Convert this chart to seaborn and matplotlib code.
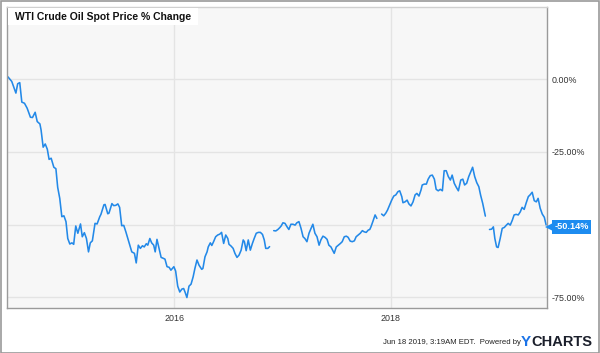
import numpy as np
import pandas as pd
import matplotlib
matplotlib.use("Agg")
import matplotlib.pyplot as plt
from matplotlib.patches import Rectangle
from matplotlib.ticker import FuncFormatter
import seaborn as sns

# ---------------- data ----------------
dates = [
    "2014-06-19", "2014-07-02", "2014-07-16", "2014-07-22", "2014-07-29", "2014-08-05", "2014-08-14",
    "2014-08-23", "2014-09-03", "2014-09-10", "2014-09-19", "2014-09-26", "2014-10-05", "2014-10-09",
    "2014-10-16", "2014-10-23", "2014-10-30", "2014-11-05", "2014-11-12", "2014-11-21", "2014-11-28",
    "2014-12-04", "2014-12-11", "2014-12-18", "2014-12-25", "2015-01-01", "2015-01-07", "2015-01-14",
    "2015-01-21", "2015-01-27", "2015-02-03", "2015-02-10", "2015-02-19", "2015-02-25", "2015-03-04",
    "2015-03-11", "2015-03-18", "2015-03-24", "2015-03-31", "2015-04-09", "2015-04-16", "2015-04-25",
    "2015-04-29", "2015-05-09", "2015-05-13", "2015-05-22", "2015-05-26", "2015-06-05", "2015-06-11",
    "2015-06-18", "2015-06-25", "2015-07-01", "2015-07-08", "2015-07-15", "2015-07-22", "2015-07-30",
    "2015-08-11", "2015-08-20", "2015-08-26", "2015-09-02", "2015-09-09", "2015-09-16", "2015-09-22",
    "2015-09-29", "2015-10-04", "2015-10-11", "2015-10-17", "2015-10-24", "2015-10-29", "2015-11-04",
    "2015-11-11", "2015-11-18", "2015-11-25", "2015-12-01", "2015-12-08", "2015-12-15", "2015-12-21",
    "2015-12-31", "2016-01-06", "2016-01-13", "2016-01-20", "2016-01-27", "2016-02-02", "2016-02-07",
    "2016-02-13", "2016-02-20", "2016-02-27", "2016-03-05", "2016-03-11", "2016-03-18", "2016-03-25",
    "2016-04-03", "2016-04-07", "2016-04-14", "2016-04-21", "2016-04-25", "2016-05-02", "2016-05-07",
    "2016-05-13", "2016-05-20", "2016-05-27", "2016-06-03", "2016-06-09", "2016-06-16", "2016-06-23",
    "2016-06-30", "2016-07-04", "2016-07-11", "2016-07-18", "2016-07-24", "2016-07-31", "2016-08-07",
    "2016-08-14", "2016-08-21", "2016-08-25", "2016-08-31", "2016-09-07", "2016-09-14", "2016-09-21",
    "2016-09-27", "2016-10-04", "2016-10-11", "2016-10-18", "2016-10-25", "2016-10-31", "2016-11-05",
    "2016-11-12", "2016-11-18", "2016-11-25", "2016-12-02", "2016-12-09", "2016-12-16", "2016-12-22",
    "2016-12-27", "2017-01-02", "2017-01-09", "2017-01-16", "2017-01-22", "2017-01-29", "2017-02-05",
    "2017-02-12", "2017-02-18", "2017-02-25", "2017-03-04", "2017-03-11", "2017-03-17", "2017-03-24",
    "2017-03-31", "2017-04-07", "2017-04-13", "2017-04-20", "2017-04-27", "2017-05-04", "2017-05-10",
    "2017-05-17", "2017-05-24", "2017-05-31", "2017-06-06", "2017-06-13", "2017-06-20", "2017-06-24",
    "2017-07-01", "2017-07-08", "2017-07-15", "2017-07-21", "2017-07-28", "2017-08-04", "2017-08-10",
    "2017-08-17", "2017-08-24", "2017-08-31", "2017-09-06", "2017-09-13", "2017-09-20", "2017-09-27",
    "2017-10-03", "2017-10-10", "2017-10-17", "2017-10-22", "2017-10-26", "2017-11-02", "2017-11-09",
    "2017-11-15", "2017-11-22", "2017-12-01", "2017-12-08", "2017-12-15", "2017-12-21", "2017-12-28",
    "2018-01-04", "2018-01-11", "2018-01-18", "2018-01-25", "2018-01-31", "2018-02-07", "2018-02-11",
    "2018-02-18", "2018-02-25", "2018-03-03", "2018-03-10", "2018-03-17", "2018-03-24", "2018-03-30",
    "2018-04-06", "2018-04-13", "2018-04-17", "2018-04-24", "2018-05-01", "2018-05-07", "2018-05-14",
    "2018-05-21", "2018-05-28", "2018-06-03", "2018-06-10", "2018-06-17", "2018-06-24", "2018-06-30",
    "2018-07-07", "2018-07-14", "2018-07-21", "2018-07-27", "2018-08-03", "2018-08-10", "2018-08-17",
    "2018-08-25", "2018-09-01", "2018-09-07", "2018-09-14", "2018-09-21", "2018-09-28", "2018-10-04",
    "2018-10-11", "2018-10-18", "2018-10-25", "2018-10-31", "2018-11-07", "2018-11-16", "2018-11-23",
    "2018-11-30", "2018-12-07", "2018-12-13", "2018-12-18", "2018-12-24", "2018-12-29", "2019-01-05",
    "2019-01-12", "2019-01-19", "2019-01-26", "2019-02-01", "2019-02-08", "2019-02-15", "2019-02-21",
    "2019-02-28", "2019-03-07", "2019-03-14", "2019-03-20", "2019-03-27", "2019-04-03", "2019-04-10",
    "2019-04-16", "2019-04-23", "2019-04-30", "2019-05-07", "2019-05-13", "2019-05-20", "2019-05-27",
    "2019-06-03", "2019-06-09",
]

pct_change = [
    0.8, -0.8, -4.8, -1.6, -1.2, -7.9, -8.3,
    -10.0, -13.1, -13.2, -11.4, -14.6, -15.4, -17.5,
    -23.4, -22.3, -24.1, -27.6, -27.2, -30.3, -30.8,
    -37.2, -41.0, -47.3, -47.0, -49.0, -54.8, -56.7,
    -56.3, -56.8, -50.5, -53.0, -49.8, -54.2, -52.8,
    -54.8, -59.4, -56.3, -55.6, -49.6, -49.8, -47.3,
    -46.5, -43.2, -43.1, -46.3, -46.1, -42.8, -43.5,
    -43.4, -42.9, -44.1, -50.4, -50.3, -52.5, -55.3,
    -59.4, -59.9, -63.2, -57.1, -58.2, -57.3, -57.7,
    -56.6, -57.1, -54.8, -56.3, -57.1, -59.4, -55.1,
    -58.2, -61.3, -61.6, -61.9, -64.5, -64.7, -65.7,
    -64.5, -66.0, -71.2, -73.2, -72.2, -72.0, -73.3,
    -75.1, -71.2, -70.5, -68.0, -65.1, -62.2, -64.0,
    -65.4, -65.1, -61.1, -59.4, -57.7, -56.3, -57.2,
    -55.9, -54.2, -53.6, -53.3, -52.7, -56.5, -53.6,
    -54.8, -56.8, -57.4, -58.2, -59.9, -61.3, -60.5,
    -58.8, -55.3, -55.9, -59.0, -55.3, -58.8, -56.5,
    -54.8, -53.0, -52.7, -52.7, -53.4, -55.3, -58.2,
    -58.2, -57.6, np.nan, -52.1, -52.2, -51.7, -51.1,
    -50.5, -49.4, -49.6, -50.8, -51.7, -49.9, -49.9,
    -50.2, -49.4, -49.0, -51.3, -54.2, -54.8, -55.9,
    -53.0, -51.3, -49.9, -53.0, -54.2, -57.1, -55.3,
    -54.0, -54.4, -55.1, -57.1, -57.7, -59.1, -59.9,
    -57.7, -57.1, -56.5, -55.9, -54.2, -54.0, -54.4,
    -55.7, -55.9, -55.6, -54.2, -53.6, -53.0, -52.1,
    -52.5, -52.7, -51.9, -51.7, -50.8, -48.8, -46.7,
    -47.9, np.nan, -46.4, -47.0, -46.1, -45.0, -43.3,
    -41.6, -40.2, -39.8, -38.7, -38.4, -40.4, -42.5,
    -42.2, -41.6, -42.9, -43.6, -42.2, -39.8, -39.3,
    -40.2, -38.1, -36.4, -36.1, -36.1, -34.4, -33.2,
    -33.0, -34.4, -37.9, -38.4, -37.9, -38.4, -31.5,
    -31.5, -33.5, -34.7, -33.0, -35.8, -37.2, -38.4,
    -34.7, -34.4, -36.4, -35.8, -33.5, -31.8, -30.3,
    -33.5, -35.6, -37.0, -39.9, -42.7, -47.1, np.nan,
    -51.7, -51.6, -50.8, -54.8, -57.7, -57.9, -54.8,
    -51.3, -51.0, -50.2, -49.6, -50.2, -48.5, -46.7,
    -46.5, -46.7, -45.6, -44.1, -44.8, -42.5, -40.4,
    -39.8, -38.9, -41.8, -42.2, -41.0, -44.4, -46.4,
    -47.5, -50.14,
]

title_text = "WTI Crude Oil Spot Price % Change"
y_ticks = [0, -25, -50, -75]
x_tick_labels = ["2016", "2018"]
last_label = "-50.14%"
footer_text = "Jun 18 2019, 3:19AM EDT.  Powered by"
brand_text = "CHARTS"
brand_first = "Y"

# ---------------- frame ----------------
df = pd.DataFrame({"date": pd.to_datetime(dates), "pct": pct_change})
df["segment"] = df["pct"].isna().cumsum()
df = df.dropna()

sns.set_theme(style="white")
plt.rcParams["font.family"] = ["Liberation Sans", "DejaVu Sans"]

W, H = 600, 353
fig = plt.figure(figsize=(W / 100, H / 100), dpi=100)
fig.patch.set_facecolor("white")

left, right, top, bottom = 7, 547, 7, 308
ax = fig.add_axes([left / W, 1 - bottom / H, (right - left) / W, (bottom - top) / H])
ax.set_facecolor("#f7f7f7")

line_color = "#2389e8"
sns.lineplot(data=df, x="date", y="pct", units="segment", estimator=None,
             color=line_color, lw=1.15, ax=ax, legend=False)

ax.set_ylim(-78.7, 24.8)
ax.set_xlim(pd.Timestamp("2014-06-16"), pd.Timestamp("2019-06-12"))

ax.set_yticks(y_ticks)
ax.yaxis.tick_right()
ax.yaxis.set_major_formatter(FuncFormatter(lambda v, p: f"{v:.2f}%"))
ax.set_xticks([pd.Timestamp(f"{t}-01-01") for t in x_tick_labels])
ax.set_xticklabels(x_tick_labels)
ax.tick_params(axis="both", length=0, labelsize=6.4, colors="#333333")
ax.tick_params(axis="y", pad=3.5)
ax.tick_params(axis="x", pad=4)
ax.set_xlabel("")
ax.set_ylabel("")

ax.grid(True, color="#e4e4e4", lw=1)
ax.set_axisbelow(True)

for side in ["left", "bottom", "right"]:
    ax.spines[side].set_color("#9a9a9a")
    ax.spines[side].set_linewidth(1)
ax.spines["top"].set_color("#d0d0d0")
ax.spines["top"].set_linewidth(1)

# title box
fig.patches.append(Rectangle((8 / W, 1 - 25 / H), (198 - 8) / W, 17 / H,
                             transform=fig.transFigure, facecolor="white",
                             edgecolor="none", zorder=5))
fig.text(15 / W, 1 - 16.5 / H, title_text, fontsize=7.5, fontweight="bold",
         color="#111111", ha="left", va="center", zorder=6)

# last value label (box + small pointer)
label_blue = "#1d8cf0"
ax.text(1.0 + 7.5 / (right - left), pct_change[-1] - 0.6, last_label,
        transform=ax.get_yaxis_transform(), ha="left", va="center",
        fontsize=6.6, fontweight="bold", color="white", zorder=10, clip_on=False,
        bbox=dict(boxstyle="square,pad=0.28", facecolor=label_blue, edgecolor="none"))
ax.plot([1.0 + 1.5 / (right - left)], [pct_change[-1] - 0.6], marker="<", markersize=5.5,
        color=label_blue, transform=ax.get_yaxis_transform(), clip_on=False, zorder=10,
        markeredgewidth=0)

# footer
fig.text(383 / W, 1 - 343 / H, footer_text, fontsize=5.6, color="#222222",
         ha="left", va="center")
fig.text(521 / W, 1 - 342 / H, brand_first, fontsize=11, fontweight="bold",
         color="#1a73e8", ha="left", va="center")
fig.text(531 / W, 1 - 342 / H, brand_text, fontsize=10.5, fontweight="bold",
         color="#1b1f2b", ha="left", va="center")

# outer border
fig.patches.append(Rectangle((0.5 / W, 0.5 / H), (W - 1.5) / W, (H - 1.5) / H,
                             transform=fig.transFigure, facecolor="none",
                             edgecolor="#9a9a9a", lw=1.2, zorder=20))

fig.savefig("out.png", dpi=100)
